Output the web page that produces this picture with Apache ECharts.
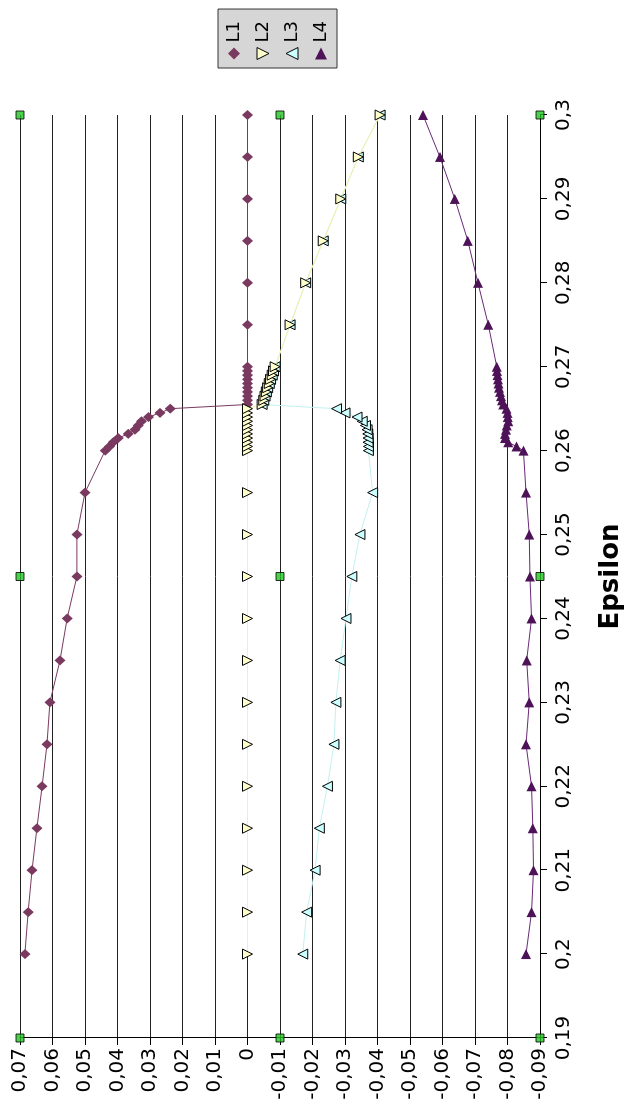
<!DOCTYPE html>
<html><head><meta charset="utf-8">
<script src="https://cdn.jsdelivr.net/npm/echarts@6/dist/echarts.min.js"></script>
<style>
html,body{margin:0;padding:0;width:636px;height:1116px;overflow:hidden;background:#fff;}
#chart{position:absolute;left:0;top:0;width:1116px;height:636px;transform-origin:0 0;transform:translate(0,1116px) rotate(-90deg);}
</style></head><body><div id="chart"></div>
<script>
// Epsilon values (x of the original, unrotated chart)
const epsilon = [0.2,0.205,0.21,0.215,0.22,0.225,0.23,0.235,0.24,0.245,0.25,0.255,
  0.26,0.2605,0.261,0.2615,0.262,0.2625,0.263,0.2635,0.264,0.2645,0.265,
  0.2655,0.266,0.2665,0.267,0.2675,0.268,0.2685,0.269,0.2695,0.27,
  0.275,0.28,0.285,0.29,0.295,0.3];
const L1 = [0.0685,0.0675,0.0663,0.0648,0.0632,0.0617,0.0608,0.0577,0.0555,0.0525,0.0525,0.0500,
  0.0438,0.0425,0.0413,0.0398,0.0367,0.0346,0.0336,0.0326,0.0305,0.0269,0.0238,
  0,0,0,0,0,0,0,0,0,0,
  0,0,0,0,0,0];
const L2 = [0,0,0,0,0,0,0,0,0,0,0,0,
  0,0,0,0,0,0,0,0,0,0,0,
  -0.0045,-0.0050,-0.0054,-0.0058,-0.0062,-0.0067,-0.0071,-0.0076,-0.0080,-0.0085,
  -0.0131,-0.0179,-0.0233,-0.0287,-0.0341,-0.0408];
const L3 = [-0.0170,-0.0182,-0.0208,-0.0221,-0.0246,-0.0266,-0.0272,-0.0285,-0.0303,-0.0321,-0.0346,-0.0385,
  -0.0372,-0.0372,-0.0371,-0.0371,-0.0370,-0.0368,-0.0363,-0.0353,-0.0337,-0.0300,-0.0274,
  -0.0045,-0.0050,-0.0054,-0.0058,-0.0062,-0.0067,-0.0071,-0.0076,-0.0080,-0.0085,
  -0.0131,-0.0179,-0.0233,-0.0287,-0.0341,-0.0408];
const L4 = [-0.0857,-0.0874,-0.0880,-0.0878,-0.0874,-0.0857,-0.0867,-0.0859,-0.0874,-0.0869,-0.0867,-0.0857,
  -0.0849,-0.0828,-0.0802,-0.0792,-0.0792,-0.0795,-0.0798,-0.0802,-0.0801,-0.0800,-0.0797,
  -0.0787,-0.0783,-0.0780,-0.0777,-0.0774,-0.0772,-0.0771,-0.0769,-0.0768,-0.0767,
  -0.0741,-0.0709,-0.0678,-0.0638,-0.0592,-0.0540];
// scaffold markers (green squares)
const frameEps = [0.19, 0.245, 0.3];
const frameVals = [0.07, -0.01, -0.09];

const FONT = 'DejaVu Sans';
const fmt = v => String(Math.round(v * 1000) / 1000).replace('.', ',');
const pairs = arr => epsilon.map((e, i) => [e, arr[i]]);
const frame = [];
frameEps.forEach(e => frameVals.forEach(v => frame.push([e, v])));

const DOWN = 'path://M0,0L10,0L5,10Z';
const RIGHT = 'path://M0,0L10,5L0,10Z';

const chart = echarts.init(document.getElementById('chart'), null, {renderer: 'canvas'});
chart.setOption({
  animation: false,
  backgroundColor: '#ffffff',
  grid: {left: 78, right: 115, top: 20, bottom: 96, containLabel: false, outerBoundsMode: 'none'},
  legend: {
    orient: 'vertical', left: 1048, top: 218,
    padding: [7, 12, 7, 8], itemGap: 11, itemWidth: 12, itemHeight: 12,
    backgroundColor: '#d6d6d6', borderColor: '#333', borderWidth: 1,
    textStyle: {fontFamily: FONT, fontSize: 18, color: '#000'},
    data: [
      {name: 'L1', icon: 'diamond', itemStyle: {color: '#7a3a60', borderWidth: 0}},
      {name: 'L2', icon: DOWN, itemStyle: {color: '#ffffcc', borderColor: '#000', borderWidth: 1}},
      {name: 'L3', icon: 'triangle', itemStyle: {color: '#ccffff', borderColor: '#000', borderWidth: 1}},
      {name: 'L4', icon: RIGHT, itemStyle: {color: '#4d1257', borderWidth: 0}}
    ]
  },
  xAxis: {
    type: 'value', min: 0.19, max: 0.3, interval: 0.01,
    name: 'Epsilon', nameLocation: 'middle', nameGap: 58,
    nameTextStyle: {fontFamily: FONT, fontSize: 26, fontWeight: 'bold', color: '#000'},
    axisLine: {show: true, onZero: false, lineStyle: {color: '#000', width: 1}},
    axisTick: {show: true, length: 7, lineStyle: {color: '#000'}},
    axisLabel: {fontFamily: FONT, fontSize: 20, color: '#000', margin: 14, formatter: fmt},
    splitLine: {show: false}
  },
  yAxis: {
    type: 'value', min: -0.09, max: 0.07, interval: 0.01,
    axisLine: {show: true, onZero: false, lineStyle: {color: '#000', width: 1}},
    axisTick: {show: true, length: 7, lineStyle: {color: '#000'}},
    axisLabel: {fontFamily: FONT, fontSize: 20, color: '#000', margin: 10, formatter: fmt},
    splitLine: {show: true, lineStyle: {color: '#222', width: 1}}
  },
  series: [
    {name: 'frame', type: 'scatter', data: frame, symbol: 'rect', symbolSize: 8,
     itemStyle: {color: '#22c322', borderColor: '#000', borderWidth: 1}, z: 3},
    {name: 'L1', type: 'line', data: pairs(L1), symbol: 'diamond', symbolSize: [10, 11],
     lineStyle: {color: '#7a3a60', width: 1}, itemStyle: {color: '#7a3a60'}, z: 4},
    {name: 'L3', type: 'line', data: pairs(L3), symbol: 'triangle', symbolSize: 10,
     lineStyle: {color: '#c4f0f0', width: 1}, itemStyle: {color: '#ccffff', borderColor: '#000', borderWidth: 1}, z: 5},
    {name: 'L2', type: 'line', data: pairs(L2), symbol: DOWN, symbolSize: 10,
     lineStyle: {color: '#f3f3a6', width: 1}, itemStyle: {color: '#ffffcc', borderColor: '#000', borderWidth: 1}, z: 6},
    {name: 'L4', type: 'line', data: pairs(L4), symbol: RIGHT, symbolSize: 10,
     lineStyle: {color: '#6a2a78', width: 1}, itemStyle: {color: '#4d1257'}, z: 7}
  ]
});
</script></body></html>
